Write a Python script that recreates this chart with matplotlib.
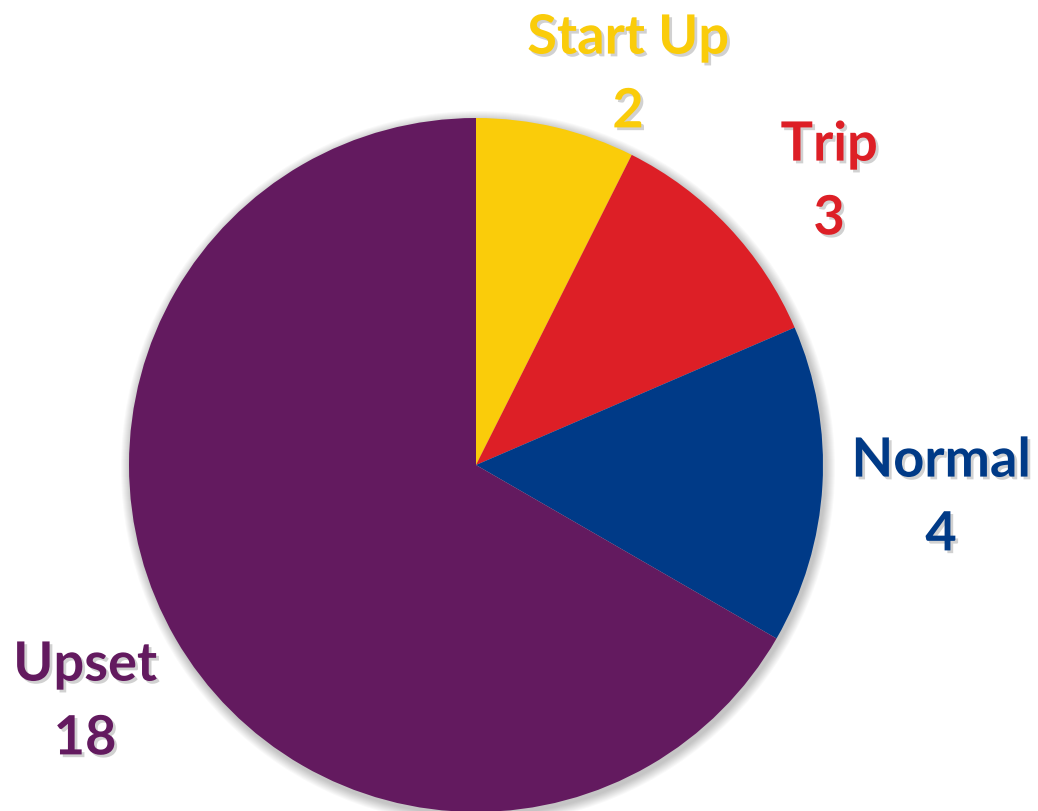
import numpy as np
import matplotlib.pyplot as plt
import matplotlib.patheffects as pe
from matplotlib.patches import Circle

labels = ["Start Up", "Trip", "Normal", "Upset"]
counts = [2, 3, 4, 18]
colors = ["#FACC0A", "#DD1F26", "#003A87", "#631A5F"]

# label block centres in pixels (x, y from top)
label_pos = [(628, 75), (829, 182), (941, 498), (85, 702)]

W, H = 1038, 811
fig = plt.figure(figsize=(W / 100, H / 100), dpi=100)
ax = fig.add_axes([0, 0, 1, 1])

cx, cy, r = 476, H - 465, 347

# soft shadow behind the pie
for k in range(10):
    ax.add_patch(Circle((cx + 2, cy - 3), r + 10 - k, color="black",
                        alpha=0.025, lw=0, zorder=0))

ax.pie(counts, colors=colors, startangle=90, counterclock=False,
       center=(cx, cy), radius=r, frame=True,
       wedgeprops=dict(linewidth=0, zorder=1))
ax.set_xlim(0, W)
ax.set_ylim(0, H)
ax.axis("off")

shadow = [pe.withSimplePatchShadow(offset=(2, -2), shadow_rgbFace="black",
                                   alpha=0.18)]
for lab, n, col, (x, y) in zip(labels, counts, colors, label_pos):
    ax.text(x, H - y, f"{lab}\n{n}", ha="center", va="center",
            color=col, fontsize=39, fontweight="bold", family="Lato",
            linespacing=1.62, path_effects=shadow, zorder=5)

fig.savefig("out.png", dpi=100)
